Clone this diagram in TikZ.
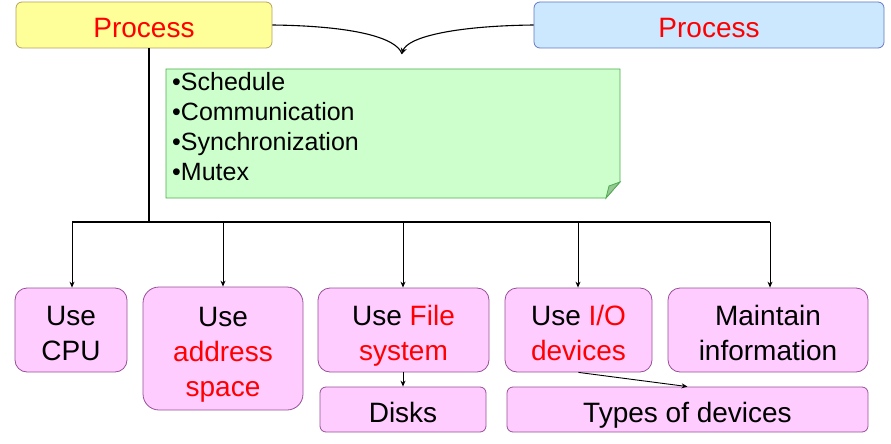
\documentclass[tikz,border=0pt]{standalone}
\usepackage{fontspec}
\setmainfont{Liberation Sans}
\usetikzlibrary{arrows.meta}
\definecolor{yfill}{RGB}{255,255,153}
\definecolor{ydraw}{RGB}{184,160,96}
\definecolor{bfill}{RGB}{204,232,255}
\definecolor{bdraw}{RGB}{100,120,190}
\definecolor{gfill}{RGB}{204,255,204}
\definecolor{gdraw}{RGB}{80,170,80}
\definecolor{gfold}{RGB}{150,200,150}
\definecolor{pfill}{RGB}{255,204,255}
\definecolor{pdraw}{RGB}{150,80,150}
\definecolor{txtred}{RGB}{255,0,0}
\begin{document}
\begin{tikzpicture}[x=1pt,y=-1pt,
  bigtext/.style={font=\fontsize{28}{35}\selectfont, align=center, inner sep=0pt,
    text height=30pt, text depth=5pt},
  twolines/.style={text height=65pt},
  threelines/.style={text height=100pt},
  topbox/.style={bigtext, rounded corners=6pt, line width=0.8pt},
  pinkbox/.style={bigtext, draw=pdraw, fill=pfill, rounded corners=12pt, line width=0.8pt, minimum height=84pt},
  smallbox/.style={bigtext, draw=pdraw, fill=pfill, rounded corners=6pt, line width=0.8pt, minimum height=45pt},
  notetext/.style={font=\fontsize{25}{30}\selectfont, anchor=base west, inner sep=0pt},
  trunkline/.style={line width=2.4pt},
  busline/.style={line width=1.8pt},
  branch/.style={line width=0.9pt, -{Stealth[length=6pt,width=5pt]}},
  merge/.style={line width=1.1pt}
]
\useasboundingbox (0,0) rectangle (891,444);

% top process boxes
\node[topbox, draw=ydraw, fill=yfill, minimum width=256pt, minimum height=46pt, text=txtred] (procL) at (144,25) {Process};
\node[topbox, draw=bdraw, fill=bfill, minimum width=350pt, minimum height=46pt, text=txtred] (procR) at (709,25) {Process};

% merging curves
\coordinate (meet) at (402,54);
\draw[merge] (procL.east) .. controls (355,26) and (397,38) .. (meet);
\draw[merge, -{Stealth[length=6pt,width=6pt]}] (procR.west) .. controls (450,26) and (407,38) .. (meet);

% note with folded corner
\draw[draw=gdraw, fill=gfill, line width=0.8pt] (166,69) -- (620,69) -- (620,182) -- (606,198) -- (166,198) -- cycle;
\draw[draw=gdraw, fill=gfold, line width=0.8pt] (620,182) -- (609,186) -- (606,198) -- cycle;
\node[notetext] (n1) at (172,90.5) {•Schedule};
\node[notetext] (n2) at (172,120.5) {•Communication};
\node[notetext] (n3) at (172,150.5) {•Synchronization};
\node[notetext] (n4) at (172,180) {•Mutex};

% bottom boxes
\node[pinkbox, twolines, minimum width=112pt] (cpu) at (71,330) {Use\\CPU};
\node[pinkbox, threelines, minimum width=160pt, minimum height=123pt, rounded corners=16pt] (addr) at (223,348.5) {Use\\\textcolor{txtred}{address}\\\textcolor{txtred}{space}};
\node[pinkbox, twolines, minimum width=171pt] (file) at (403.5,330) {Use \textcolor{txtred}{File}\\\textcolor{txtred}{system}};
\node[pinkbox, twolines, minimum width=147pt] (io) at (578.5,330) {Use \textcolor{txtred}{I/O}\\\textcolor{txtred}{devices}};
\node[pinkbox, twolines, minimum width=200pt] (maint) at (768,330) {Maintain\\information};
\node[smallbox, minimum width=166pt] (disks) at (403,409.5) {Disks};
\node[smallbox, minimum width=361pt] (types) at (687.5,409.5) {Types of devices};

% trunk and bus
\coordinate (bus) at (149,222);
\draw[trunkline] (procL.south -| bus) -- (bus);
\draw[busline] (72,222) -- (770,222);
\draw[branch] (72,222) -- (cpu.north -| 72,0);
\draw[branch] (addr.north |- bus) -- (addr.north);
\draw[branch] (403,222) -- (file.north -| 403,0);
\draw[branch] (578,222) -- (io.north -| 578,0);
\draw[branch] (770,222) -- (maint.north -| 770,0);

% sub arrows
\draw[branch] (disks.north |- file.south) -- (disks.north);
\draw[branch] (io.south) -- (types.north);
\end{tikzpicture}
\end{document}
